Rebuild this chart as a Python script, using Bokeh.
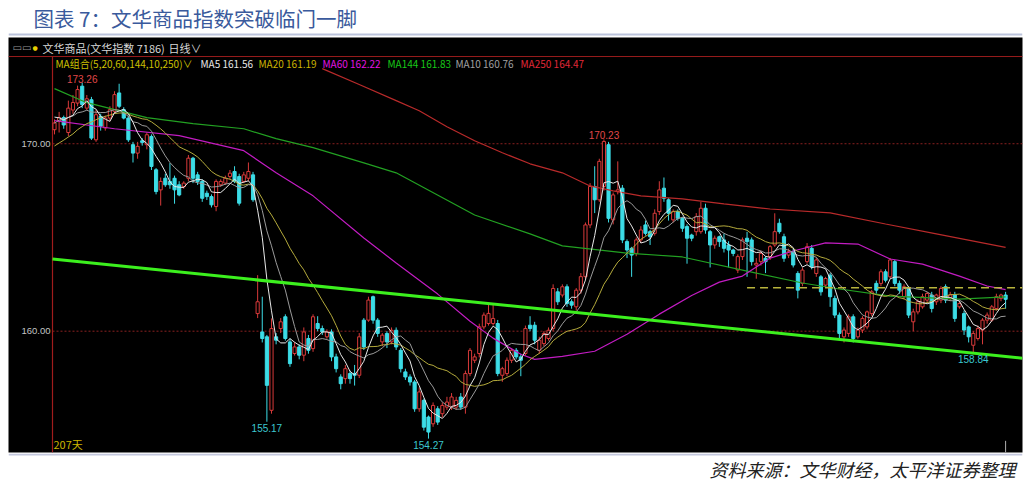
import numpy as np
import pandas as pd
from bokeh.plotting import figure
from bokeh.models import Range1d, Label, ColumnDataSource
from bokeh.layouts import column
from bokeh.embed import file_html
from bokeh.resources import INLINE
from bokeh.core.properties import value

# ---------------- data ----------------
opens = [170.75, 171.20, 171.40, 170.60, 171.80, 172.17, 173.07, 171.90, 172.35, 170.21,
         171.46, 170.84, 171.37, 171.73, 172.71, 171.82, 171.37, 169.95, 169.50, 170.16,
         169.95, 170.39, 168.61, 167.54, 168.16, 167.99, 168.16, 167.81, 167.72, 168.16,
         169.23, 168.34, 167.99, 167.36, 167.18, 166.65, 167.81, 167.90, 168.25, 168.52,
         168.25, 167.99, 168.16, 168.34, 160.94, 159.96, 159.70, 155.78, 159.70, 160.14,
         160.77, 159.43, 158.81, 159.16, 158.72, 159.61, 159.07, 160.41, 160.14, 159.70,
         159.96, 158.63, 157.56, 157.47, 157.74, 157.74, 157.65, 160.59, 160.59, 161.84,
         160.59, 159.43, 159.88, 159.43, 160.05, 158.98, 157.83, 157.56, 157.29, 155.86,
         156.31, 155.42, 155.06, 155.86, 155.60, 155.95, 155.95, 155.95, 156.49, 155.95,
         157.74, 158.45, 158.81, 160.23, 160.41, 160.41, 160.41, 157.65, 157.74, 158.45,
         158.98, 158.63, 158.81, 160.32, 160.32, 158.98, 159.34, 159.61, 160.14, 162.10,
         161.93, 162.37, 161.57, 161.30, 162.19, 162.91, 165.67, 167.72, 167.01, 167.72,
         169.95, 165.94, 167.45, 167.63, 164.78, 164.42, 164.15, 164.87, 165.67, 165.31,
         165.22, 166.38, 167.63, 167.01, 165.94, 166.38, 166.02, 165.58, 165.13, 165.31,
         165.31, 166.56, 165.31, 164.60, 165.04, 164.87, 164.60, 164.33, 163.26, 163.98,
         164.96, 164.87, 163.53, 163.71, 163.89, 163.98, 164.60, 165.76, 165.04, 164.06,
         164.24, 163.08, 162.55, 163.71, 164.42, 163.08, 162.90, 162.46, 162.99, 161.75,
         160.86, 159.70, 159.88, 160.77, 159.70, 160.06, 160.23, 160.94, 162.55, 162.55,
         163.17, 162.90, 163.71, 162.55, 161.84, 162.28, 160.50, 161.03, 161.30, 161.66,
         161.93, 161.57, 161.66, 162.37, 161.75, 161.93, 161.30, 160.94, 160.23, 159.25,
         159.61, 160.06, 160.59, 160.59, 161.21, 161.75, 161.93]
highs = [171.30, 171.70, 171.50, 172.30, 172.60, 173.10, 173.26, 172.60, 172.50, 171.80,
         171.60, 171.50, 172.00, 172.80, 173.20, 171.95, 171.50, 170.10, 170.10, 170.30,
         170.60, 170.50, 168.70, 168.20, 168.40, 168.97, 168.30, 168.00, 168.00, 169.40,
         169.30, 168.50, 168.10, 167.50, 167.30, 168.10, 168.10, 168.30, 168.60, 168.80,
         168.40, 168.50, 169.00, 168.50, 162.99, 161.84, 159.80, 160.68, 159.90, 160.70,
         160.90, 159.60, 159.40, 159.30, 160.20, 159.80, 160.90, 160.80, 160.30, 160.10,
         160.10, 158.80, 157.70, 158.20, 157.90, 158.20, 159.90, 160.70, 161.84, 161.90,
         160.70, 159.90, 160.00, 160.20, 160.20, 159.10, 158.00, 157.70, 157.40, 157.00,
         156.40, 155.50, 156.20, 156.00, 156.20, 156.50, 156.70, 156.50, 156.70, 157.90,
         159.10, 158.80, 160.40, 161.00, 161.50, 161.50, 160.60, 158.10, 158.60, 159.10,
         159.10, 158.80, 160.30, 160.80, 160.50, 159.70, 160.00, 160.20, 162.50, 162.30,
         162.50, 162.50, 161.70, 162.30, 163.10, 165.80, 167.90, 168.80, 169.20, 170.23,
         170.10, 167.40, 169.06, 167.80, 164.90, 164.50, 165.00, 165.60, 165.90, 165.40,
         166.50, 168.00, 168.20, 167.10, 166.50, 166.50, 166.10, 165.70, 165.20, 166.30,
         166.90, 166.80, 165.40, 165.10, 165.10, 165.20, 164.80, 164.40, 164.10, 165.00,
         165.30, 165.00, 163.90, 164.30, 164.00, 164.60, 166.29, 166.00, 165.20, 164.40,
         164.40, 163.20, 163.40, 164.70, 164.60, 163.90, 163.00, 162.90, 163.10, 161.90,
         161.00, 160.20, 160.90, 160.90, 160.20, 160.80, 161.10, 162.20, 162.70, 163.30,
         163.30, 163.90, 163.80, 162.70, 162.50, 162.40, 161.20, 161.70, 162.00, 162.10,
         162.10, 162.00, 162.40, 162.50, 162.10, 162.10, 161.60, 161.10, 160.30, 160.00,
         160.30, 160.70, 161.00, 161.40, 162.00, 162.00, 162.10]
lows = [170.50, 170.60, 170.80, 170.40, 171.60, 172.00, 171.90, 171.80, 170.20, 170.10,
        170.70, 170.70, 171.20, 171.60, 171.90, 171.30, 170.10, 169.00, 169.20, 169.90,
        169.70, 168.60, 167.30, 166.70, 167.70, 167.60, 166.80, 167.20, 167.60, 168.00,
        167.90, 167.80, 166.90, 167.00, 166.60, 166.40, 167.70, 167.80, 168.10, 167.90,
        166.70, 167.90, 168.00, 166.90, 160.70, 159.40, 155.17, 155.60, 159.30, 159.90,
        159.50, 158.10, 158.70, 158.50, 158.40, 158.80, 158.90, 160.00, 159.80, 159.60,
        158.40, 157.80, 156.90, 157.20, 157.20, 157.10, 157.50, 159.00, 160.50, 160.40,
        159.70, 159.20, 159.10, 159.30, 159.00, 157.80, 157.40, 157.10, 155.70, 155.70,
        154.70, 154.27, 154.90, 155.00, 155.40, 155.80, 155.80, 155.80, 155.80, 155.60,
        157.60, 158.30, 158.60, 160.10, 160.30, 160.30, 157.60, 157.30, 157.60, 158.30,
        158.50, 157.60, 158.70, 160.00, 159.30, 158.80, 159.20, 159.50, 160.00, 161.40,
        161.80, 161.30, 161.20, 161.10, 162.00, 162.80, 165.50, 166.30, 166.90, 167.50,
        165.80, 165.70, 167.30, 164.70, 163.90, 162.90, 164.00, 164.70, 165.10, 164.60,
        165.10, 166.20, 166.90, 165.90, 165.80, 165.90, 165.30, 163.60, 164.80, 165.10,
        165.20, 165.20, 163.40, 164.40, 164.50, 164.20, 163.40, 164.00, 163.10, 163.80,
        162.90, 163.50, 162.80, 163.50, 163.10, 163.80, 164.50, 165.20, 163.70, 163.90,
        163.40, 161.75, 162.40, 163.60, 163.30, 162.90, 161.90, 162.30, 161.30, 160.70,
        159.60, 159.40, 159.70, 159.40, 159.60, 159.90, 160.10, 160.80, 162.00, 162.40,
        162.60, 162.80, 162.40, 162.00, 161.70, 160.70, 160.00, 160.90, 161.20, 161.50,
        161.00, 161.40, 161.50, 161.50, 161.60, 160.50, 161.20, 159.80, 159.40, 158.84,
        159.50, 159.30, 160.40, 160.50, 161.10, 161.60, 161.20]
closes = [171.11, 171.40, 171.00, 171.90, 172.20, 172.89, 172.09, 172.40, 170.30, 171.55,
          170.93, 171.37, 171.82, 172.62, 172.00, 171.37, 170.21, 169.50, 169.86, 170.07,
          170.48, 168.79, 167.45, 167.99, 167.81, 167.81, 167.54, 167.27, 167.90, 169.23,
          168.16, 167.99, 167.09, 167.18, 166.74, 167.99, 167.99, 168.16, 168.43, 167.99,
          166.83, 168.34, 168.52, 167.01, 161.57, 159.61, 157.11, 160.14, 159.52, 160.50,
          159.61, 158.27, 159.16, 158.72, 159.96, 158.98, 160.77, 160.14, 159.96, 159.96,
          158.63, 158.00, 157.20, 158.00, 157.47, 157.65, 159.70, 159.16, 161.66, 160.59,
          159.88, 159.79, 159.43, 160.05, 159.16, 158.00, 157.56, 157.29, 155.86, 156.76,
          154.88, 154.62, 156.04, 155.15, 156.04, 156.22, 156.49, 156.31, 155.95, 157.74,
          158.98, 158.63, 160.23, 160.86, 160.95, 160.68, 157.74, 158.00, 158.45, 158.98,
          158.63, 158.45, 160.14, 160.14, 159.52, 159.52, 159.88, 160.05, 162.28, 161.57,
          162.37, 161.48, 161.39, 162.19, 162.91, 165.67, 167.72, 167.01, 169.06, 170.12,
          166.02, 167.27, 167.54, 164.87, 164.33, 164.06, 164.87, 165.40, 165.22, 165.04,
          166.29, 167.54, 167.09, 166.29, 166.38, 166.02, 165.49, 164.96, 164.96, 166.11,
          166.56, 165.40, 164.60, 164.96, 164.78, 164.42, 164.33, 164.15, 163.98, 164.87,
          164.78, 163.71, 163.62, 164.15, 163.71, 164.51, 165.31, 165.31, 163.89, 164.24,
          163.53, 162.19, 163.26, 164.51, 163.44, 163.80, 162.10, 162.81, 161.84, 160.86,
          159.88, 160.06, 160.77, 159.61, 160.06, 160.68, 161.03, 162.10, 162.19, 163.17,
          162.72, 163.80, 162.55, 162.19, 162.37, 160.86, 161.03, 161.57, 161.84, 162.01,
          161.21, 161.93, 162.28, 161.66, 161.93, 160.68, 161.48, 160.06, 159.70, 159.88,
          160.14, 160.59, 160.86, 161.30, 161.84, 161.93, 161.70]
# closes before the visible window (estimated from the short averages at the left edge)
pre_closes = [168.2, 168.0, 168.5, 168.9, 168.4, 168.8, 169.2, 168.7, 169.0, 168.9,
              169.8, 170.5, 171.0, 171.4, 171.2, 171.6, 171.5, 171.3, 171.6]

# long moving averages (day index, value)
ma60_idx = [0, 13, 27, 41, 48, 56, 67, 74, 83, 90, 95, 101, 104, 110, 117, 124, 131, 138,
            144, 149, 155, 160, 167, 174, 181, 188, 196, 202, 206]
ma60_val = [171.23, 170.80, 170.43, 169.63, 168.45, 167.22, 164.97, 163.64, 161.98, 160.53,
            159.63, 158.77, 158.50, 158.66, 158.93, 159.84, 160.91, 161.90, 162.62, 162.94,
            163.90, 164.28, 164.71, 164.65, 163.85, 163.58, 162.94, 162.41, 162.22]
ma144_idx = [0, 7, 20, 30, 41, 48, 56, 67, 74, 91, 103, 110, 124, 136, 152, 162, 170, 181, 196, 206]
ma144_val = [172.94, 172.19, 171.39, 171.07, 170.80, 170.27, 169.79, 168.98, 168.45, 166.20,
             165.19, 164.55, 164.17, 163.96, 163.10, 162.57, 162.25, 161.87, 161.71, 161.83]
ma250_idx = [58, 66, 74, 79, 85, 91, 97, 103, 110, 116, 121, 127, 136, 145, 155, 168, 180, 191, 206]
ma250_val = [174.01, 173.16, 172.30, 171.76, 170.91, 170.16, 169.52, 168.93, 168.45, 167.75,
             167.49, 167.22, 167.06, 166.79, 166.52, 166.31, 165.72, 165.19, 164.47]

trend_idx = [-0.43, 209.66]
trend_val = [163.85, 158.56]
resist_idx = [150, 209.66]
resist_val = [162.32, 162.32]

ext_idx = [6, 119, 46, 81, 199]
ext_val = [173.26, 170.23, 155.17, 154.27, 158.84]
ext_kind = ["high", "high", "low", "low", "low"]

yticks = [160, 170]
ma_names = ["MA5", "MA20", "MA60", "MA144", "MA10", "MA250"]
ma_last = [161.56, 161.19, 162.22, 161.83, 160.76, 164.47]

# ---------------- styling ----------------
UP = "#d83a3a"
DOWN = "#3cdce6"
CJK = value("Noto Sans CJK SC")
NUMF = value("Liberation Sans")
W = 1032
BL, BR = 8, 10          # same side borders for every strip so the frames line up

n = len(closes)
x = np.arange(n)
allc = pd.Series(pre_closes + closes)
npre = len(pre_closes)
ma5 = allc.rolling(5, min_periods=1).mean().values[npre:]
ma10 = allc.rolling(10, min_periods=1).mean().values[npre:]
ma20 = allc.rolling(20, min_periods=1).mean().values[npre:]

o = np.array(opens); c = np.array(closes); h = np.array(highs); l = np.array(lows)
up = c >= o
top = np.maximum(o, c)
bot = np.minimum(o, c)
bot = np.where(top - bot < 0.04, top - 0.04, bot)

src_up = ColumnDataSource(dict(x=x[up], top=top[up], bot=bot[up], hi=h[up], lo=l[up]))
src_dn = ColumnDataSource(dict(x=x[~up], top=top[~up], bot=bot[~up], hi=h[~up], lo=l[~up]))


def strip(height, bg):
    f = figure(width=W, height=height, x_range=Range1d(BL, W - BR), y_range=Range1d(0, height),
               output_backend="svg", toolbar_location=None,
               min_border_left=BL, min_border_right=BR, min_border_top=0, min_border_bottom=0,
               x_axis_location=None, y_axis_location=None, outline_line_color=None,
               background_fill_color=bg, border_fill_color="white")
    f.grid.visible = False
    return f


# ---------------- title strip (page y 0..37) ----------------
TH = 37
tfig = strip(TH, "white")
tfig.text(x=[33], y=[TH - 17], text=["图表 7：文华商品指数突破临门一脚"], text_font=CJK,
          text_font_size="20.5px", text_color="#3a5a9c", text_baseline="middle")
tfig.segment(x0=[BL], y0=[TH - 34], x1=[W - BR], y1=[TH - 34], line_color="#bcc4dc", line_width=2)

# ---------------- main chart (page y 37..453) ----------------
CH = 416
p = figure(width=W, height=CH, x_range=Range1d(-9.963, 209.66), y_range=Range1d(153.529, 175.668),
           output_backend="svg", toolbar_location=None, x_axis_location=None, y_axis_location=None,
           min_border_left=BL, min_border_right=BR, min_border_top=0, min_border_bottom=1,
           background_fill_color="black", border_fill_color="white", outline_line_color=None)
p.grid.visible = False

FL, FB = 8, 452          # frame left / bottom on the page


def sx(px):
    return px - FL


def sy(py):
    return FB - py


x_left, x_right = -0.433, 209.66
y_sep = 174.652
# separators: red header line and red left axis line
p.segment(x0=[-9.963], y0=[y_sep], x1=[x_right], y1=[y_sep], line_color="#9a1c1c", line_width=1)
p.segment(x0=[x_left], y0=[153.529], x1=[x_left], y1=[y_sep], line_color="#a01c1c", line_width=1.2)
# dashed grid lines at the y ticks
p.segment(x0=[x_left] * len(yticks), y0=yticks, x1=[x_right] * len(yticks), y1=yticks,
          line_color="#8a2020", line_width=1, line_dash="2 2")
for t in yticks:
    p.add_layout(Label(x=sx(50), y=t, x_units="screen", y_units="data", text=f"{t:.2f}",
                       text_font="Liberation Sans", text_font_size="9.5px", text_color="#c4c4c4",
                       text_align="right", text_baseline="middle"))

# candles
p.segment(x0="x", y0="lo", x1="x", y1="hi", source=src_up, line_color=UP, line_width=1)
p.segment(x0="x", y0="lo", x1="x", y1="hi", source=src_dn, line_color=DOWN, line_width=1)
p.vbar(x="x", width=0.68, top="top", bottom="bot", source=src_up,
       fill_color="black", line_color=UP, line_width=1)
p.vbar(x="x", width=0.68, top="top", bottom="bot", source=src_dn,
       fill_color=DOWN, line_color=DOWN, line_width=1)

# moving averages
p.line(ma250_idx, ma250_val, line_color="#b82a2a", line_width=1.2)
p.line(ma144_idx, ma144_val, line_color="#22a022", line_width=1.2)
p.line(ma60_idx, ma60_val, line_color="#c21cc2", line_width=1.2)
p.line(x, ma20, line_color="#b4aa3c", line_width=1)
p.line(x, ma10, line_color="#9a9a9a", line_width=1)
p.line(x, ma5, line_color="#e8e8e8", line_width=1)

# trend line and resistance
p.line(trend_idx, trend_val, line_color="#3cf01e", line_width=3)
p.line(resist_idx, resist_val, line_color="#b8b43c", line_width=1.5, line_dash="8 5")

# cursor mark under the last bar
p.segment(x0=[n - 1], y0=[153.529], x1=[n - 1], y1=[154.15], line_color="#b0b0b0", line_width=1)

# extreme labels
for i, v, k in zip(ext_idx, ext_val, ext_kind):
    if k == "high":
        p.text(x=[i], y=[v], text=[f"{v:.2f}"], text_font=NUMF, text_font_size="10px",
               text_color="#e04848", text_align="center", text_baseline="bottom")
    else:
        p.text(x=[i], y=[v], text=[f"{v:.2f}"], text_font=NUMF, text_font_size="10px",
               text_color="#3cc8d0", text_align="center", text_baseline="top", y_offset=2)

# header row
p.add_layout(Label(x=sx(12), y=sy(47), x_units="screen", y_units="screen", text="▭▭",
                   text_font="DejaVu Sans", text_font_size="10px", text_color="#9a9a9a",
                   text_baseline="middle"))
p.add_layout(Label(x=sx(32), y=sy(47), x_units="screen", y_units="screen", text="●",
                   text_font="DejaVu Sans", text_font_size="6px", text_color="#e8d000",
                   text_baseline="middle"))
for t, px in zip(["文华商品(文华指数 7186)", "日线∨"], [42, 168]):
    p.add_layout(Label(x=sx(px), y=sy(47), x_units="screen", y_units="screen", text=t,
                       text_font="Noto Sans CJK SC", text_font_size="11px", text_color="#d8d8d8",
                       text_baseline="middle"))

# MA legend row
leg_texts = ["MA组合(5,20,60,144,10,250)∨"] + [f"{nm} {vv:.2f}" for nm, vv in zip(ma_names, ma_last)]
leg_px = [55, 200, 258, 322, 387, 455, 520]
leg_col = ["#ccc000", "#e8e8e8", "#ccb400", "#e014e0", "#18c818", "#a0a0a0", "#e02838"]
for t, px, cc in zip(leg_texts, leg_px, leg_col):
    p.add_layout(Label(x=sx(px), y=sy(63), x_units="screen", y_units="screen", text=t,
                       text_font="Noto Sans CJK SC", text_font_size="10px",
                       text_color=cc, text_baseline="middle"))
p.add_layout(Label(x=sx(53), y=sy(451), x_units="screen", y_units="screen", text="207天",
                   text_font="Noto Sans CJK SC", text_font_size="11px",
                   text_color="#ccb400", text_baseline="bottom"))

# ---------------- source strip (page y 453..481) ----------------
SH = 28
sfig = strip(SH, "white")
sfig.segment(x0=[BL], y0=[SH - 1], x1=[W - BR], y1=[SH - 1], line_color="#c4c8de", line_width=2)
sfig.text(x=[1015], y=[SH - 15], text=["资料来源：文华财经，太平洋证券整理"], text_font=CJK,
          text_font_size="18px", text_font_style="italic", text_color="#222222",
          text_align="right", text_baseline="middle")

layout = column(tfig, p, sfig, spacing=0)
open("out.html", "w").write(file_html(layout, INLINE))
